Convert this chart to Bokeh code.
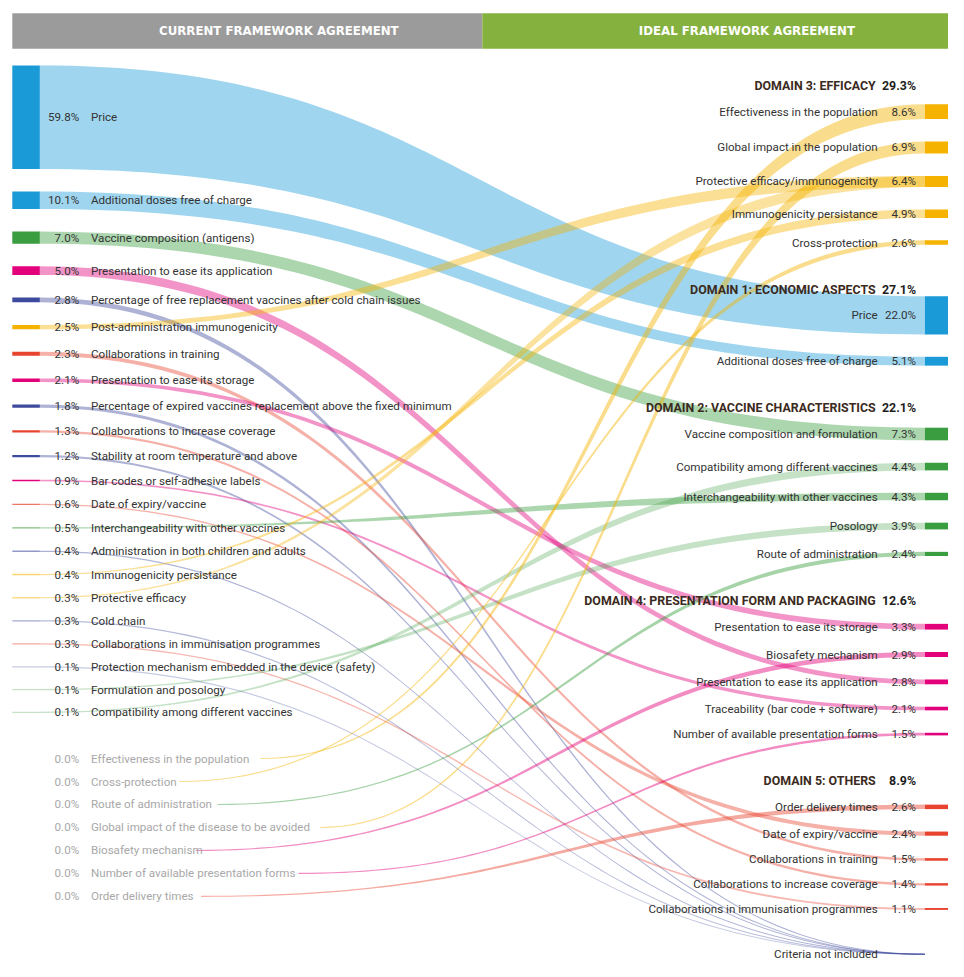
import numpy as np
from bokeh.plotting import figure
from bokeh.models import Range1d, ColumnDataSource
from bokeh.core.properties import value
from bokeh.embed import file_html
from bokeh.resources import INLINE

# ---------------- data ----------------
left_labels = [
    "Price", "Additional doses free of charge", "Vaccine composition (antigens)",
    "Presentation to ease its application",
    "Percentage of free replacement vaccines after cold chain issues",
    "Post-administration immunogenicity", "Collaborations in training",
    "Presentation to ease its storage",
    "Percentage of expired vaccines replacement above the fixed minimum",
    "Collaborations to increase coverage", "Stability at room temperature and above",
    "Bar codes or self-adhesive labels", "Date of expiry/vaccine",
    "Interchangeability with other vaccines", "Administration in both children and adults",
    "Immunogenicity persistance", "Protective efficacy", "Cold chain",
    "Collaborations in immunisation programmes",
    "Protection mechanism embedded in the device (safety)", "Formulation and posology",
    "Compatibility among different vaccines",
    "Effectiveness in the population", "Cross-protection", "Route of administration",
    "Global impact of the disease to be avoided", "Biosafety mechanism",
    "Number of available presentation forms", "Order delivery times",
]
left_values = [59.8, 10.1, 7.0, 5.0, 2.8, 2.5, 2.3, 2.1, 1.8, 1.3, 1.2, 0.9, 0.6, 0.5,
               0.4, 0.4, 0.3, 0.3, 0.3, 0.1, 0.1, 0.1, 0.0, 0.0, 0.0, 0.0, 0.0, 0.0, 0.0]
NOT_INCLUDED = "Criteria not included"
left_targets = [
    "Price", "Additional doses free of charge", "Vaccine composition and formulation",
    "Presentation to ease its application", NOT_INCLUDED,
    "Protective efficacy/immunogenicity", "Collaborations in training",
    "Presentation to ease its storage", NOT_INCLUDED,
    "Collaborations to increase coverage", NOT_INCLUDED,
    "Traceability (bar code + software)", "Date of expiry/vaccine",
    "Interchangeability with other vaccines", NOT_INCLUDED,
    "Immunogenicity persistance", "Protective efficacy/immunogenicity", NOT_INCLUDED,
    "Collaborations in immunisation programmes", NOT_INCLUDED, "Posology",
    "Compatibility among different vaccines",
    "Effectiveness in the population", "Cross-protection", "Route of administration",
    "Global impact in the population", "Biosafety mechanism",
    "Number of available presentation forms", "Order delivery times",
]

group_names = ["DOMAIN 3: EFFICACY", "DOMAIN 1: ECONOMIC ASPECTS",
               "DOMAIN 2: VACCINE CHARACTERISTICS",
               "DOMAIN 4: PRESENTATION FORM AND PACKAGING", "DOMAIN 5: OTHERS"]
group_values = [29.3, 27.1, 22.1, 12.6, 8.9]
group_colors = ["#f5b300", "#1a9ad6", "#3a9d3f", "#e3007b", "#e8432f"]
not_included_color = "#3d4a9e"

right_labels = [
    "Effectiveness in the population", "Global impact in the population",
    "Protective efficacy/immunogenicity", "Immunogenicity persistance", "Cross-protection",
    "Price", "Additional doses free of charge",
    "Vaccine composition and formulation", "Compatibility among different vaccines",
    "Interchangeability with other vaccines", "Posology", "Route of administration",
    "Presentation to ease its storage", "Biosafety mechanism",
    "Presentation to ease its application", "Traceability (bar code + software)",
    "Number of available presentation forms",
    "Order delivery times", "Date of expiry/vaccine", "Collaborations in training",
    "Collaborations to increase coverage", "Collaborations in immunisation programmes",
]
right_values = [8.6, 6.9, 6.4, 4.9, 2.6, 22.0, 5.1, 7.3, 4.4, 4.3, 3.9, 2.4,
                3.3, 2.9, 2.8, 2.1, 1.5, 2.6, 2.4, 1.5, 1.4, 1.1]
right_group = [0, 0, 0, 0, 0, 1, 1, 2, 2, 2, 2, 2, 3, 3, 3, 3, 3, 4, 4, 4, 4, 4]

header_labels = ["CURRENT FRAMEWORK AGREEMENT", "IDEAL FRAMEWORK AGREEMENT"]
header_colors = ["#9b9b9b", "#85b23e"]

# ---------------- layout ----------------
K = 1.76                  # px per percentage point
L_BAR = (12, 40)
R_BAR = (940, 966)
FONT = value("Roboto")
TXT = "#333333"
FS = "11.6px"

# left centres
lc, lh = [], []
y = 66.0
last = None
zero_start = None
for v in left_values:
    if v > 0:
        h = v * K
        c = y + h / 2
        y = y + h + 22.95
        last = c
    else:
        if zero_start is None:
            zero_start = last + 47
            c = zero_start
        else:
            c = lc[-1] + 23.35
        h = 0
    lc.append(c)
    lh.append(h)

# right centres
rc, rh = [], []
hdr_y = []
prev_c, prev_h, prev_g = None, None, None
for v, g in zip(right_values, right_group):
    h = v * K
    if prev_c is None:
        c = 113.0
        hdr_y.append(c - 26.5)
    elif g != prev_g:
        c = prev_c + 74
        hdr_y.append(c - 26.5)
    else:
        c = prev_c + (prev_h + h) / 2 + 22.8
    rc.append(c)
    rh.append(h)
    prev_c, prev_h, prev_g = c, h, g
crit_y = prev_c + 46

p = figure(width=948, height=961, x_range=Range1d(0, 964), y_range=Range1d(977, 0),
           output_backend="svg", toolbar_location=None, min_border=0)
p.axis.visible = False
p.grid.visible = False
p.outline_line_color = None
p.background_fill_color = "white"

# header band
p.quad(left=[12, 490], right=[490, 966], top=[13, 13], bottom=[49, 49],
       fill_color=header_colors, line_color=None)
p.text(x=[283, 759], y=[31.5, 31.5], text=header_labels, text_color="white",
       text_font=value("DejaVu Sans"), text_font_style="bold", text_font_size="11.8px",
       text_align="center", text_baseline="middle")

# ---------------- links ----------------
t = np.linspace(0, 1, 80)


def bez(x0, y0, x1, y1):
    xm = (x0 + x1) / 2
    xs = (1 - t) ** 3 * x0 + 3 * (1 - t) ** 2 * t * xm + 3 * (1 - t) * t ** 2 * xm + t ** 3 * x1
    ys = y0 + (y1 - y0) * (3 * t ** 2 - 2 * t ** 3)
    return xs, ys


def src_alpha(v):
    return min(1.0, 0.2 + 0.9 * v)


xs_l, ys_l, col_l, al_l = [], [], [], []
left_col = []
for i, (lab, v, tgt) in enumerate(zip(left_labels, left_values, left_targets)):
    if tgt == NOT_INCLUDED:
        y1, h1, col = crit_y, 1.0, not_included_color
    else:
        j = right_labels.index(tgt)
        y1, h1, col = rc[j], max(rh[j], 1.2), group_colors[right_group[j]]
    left_col.append(col)
    if v > 0:
        x0, h0 = L_BAR[1], max(lh[i], 1.3)
        a = min(0.42, 0.42 * (0.6 + v))
    else:
        x0, h0 = 92 + len(lab) * 5.5 + 2, 1.1
        a = 0.45
    x1 = R_BAR[0]
    tx, ty = bez(x0, lc[i] - h0 / 2, x1, y1 - h1 / 2)
    bx, by = bez(x0, lc[i] + h0 / 2, x1, y1 + h1 / 2)
    xs_l.append(np.concatenate([tx, bx[::-1]]))
    ys_l.append(np.concatenate([ty, by[::-1]]))
    col_l.append(col)
    al_l.append(a)

p.patches(xs=xs_l, ys=ys_l, fill_color=col_l, fill_alpha=al_l, line_color=None)

# ---------------- left bars and labels ----------------
nz = [i for i, v in enumerate(left_values) if v > 0]
p.quad(left=L_BAR[0], right=L_BAR[1],
       top=[lc[i] - max(lh[i], 1.4) / 2 for i in nz],
       bottom=[lc[i] + max(lh[i], 1.4) / 2 for i in nz],
       fill_color=[left_col[i] for i in nz],
       fill_alpha=[src_alpha(left_values[i]) for i in nz], line_color=None)

lcol = [TXT if v > 0 else "#a8a8a8" for v in left_values]
src_left = ColumnDataSource(dict(y=lc, pct=[f"{v:.1f}%" for v in left_values],
                                 lab=left_labels, col=lcol))
p.text(x=80, y="y", text="pct", source=src_left, text_color="col", text_font=FONT,
       text_font_size=FS, text_align="right", text_baseline="middle")
p.text(x=92, y="y", text="lab", source=src_left, text_color="col", text_font=FONT,
       text_font_size=FS, text_align="left", text_baseline="middle")

# ---------------- right bars and labels ----------------
p.quad(left=R_BAR[0], right=R_BAR[1],
       top=[c - max(h, 1.4) / 2 for c, h in zip(rc, rh)],
       bottom=[c + max(h, 1.4) / 2 for c, h in zip(rc, rh)],
       fill_color=[group_colors[g] for g in right_group], line_color=None)

src_right = ColumnDataSource(dict(y=rc, pct=[f"{v:.1f}%" for v in right_values],
                                  lab=right_labels))
p.text(x=892, y="y", text="lab", source=src_right, text_color=TXT, text_font=FONT,
       text_font_size=FS, text_align="right", text_baseline="middle")
p.text(x=931, y="y", text="pct", source=src_right, text_color=TXT, text_font=FONT,
       text_font_size=FS, text_align="right", text_baseline="middle")

src_hdr = ColumnDataSource(dict(y=hdr_y, lab=group_names,
                                pct=[f"{v:.1f}%" for v in group_values]))
p.text(x=890, y="y", text="lab", source=src_hdr, text_color="#3b2a20", text_font=FONT,
       text_font_style="bold", text_font_size="12.4px", text_align="right",
       text_baseline="middle")
p.text(x=931, y="y", text="pct", source=src_hdr, text_color="#1e1e1e", text_font=FONT,
       text_font_style="bold", text_font_size="12.4px", text_align="right",
       text_baseline="middle")

p.text(x=[892], y=[crit_y], text=[NOT_INCLUDED], text_color=TXT, text_font=FONT,
       text_font_size=FS, text_align="right", text_baseline="middle")

open("out.html", "w").write(file_html(p, INLINE))
